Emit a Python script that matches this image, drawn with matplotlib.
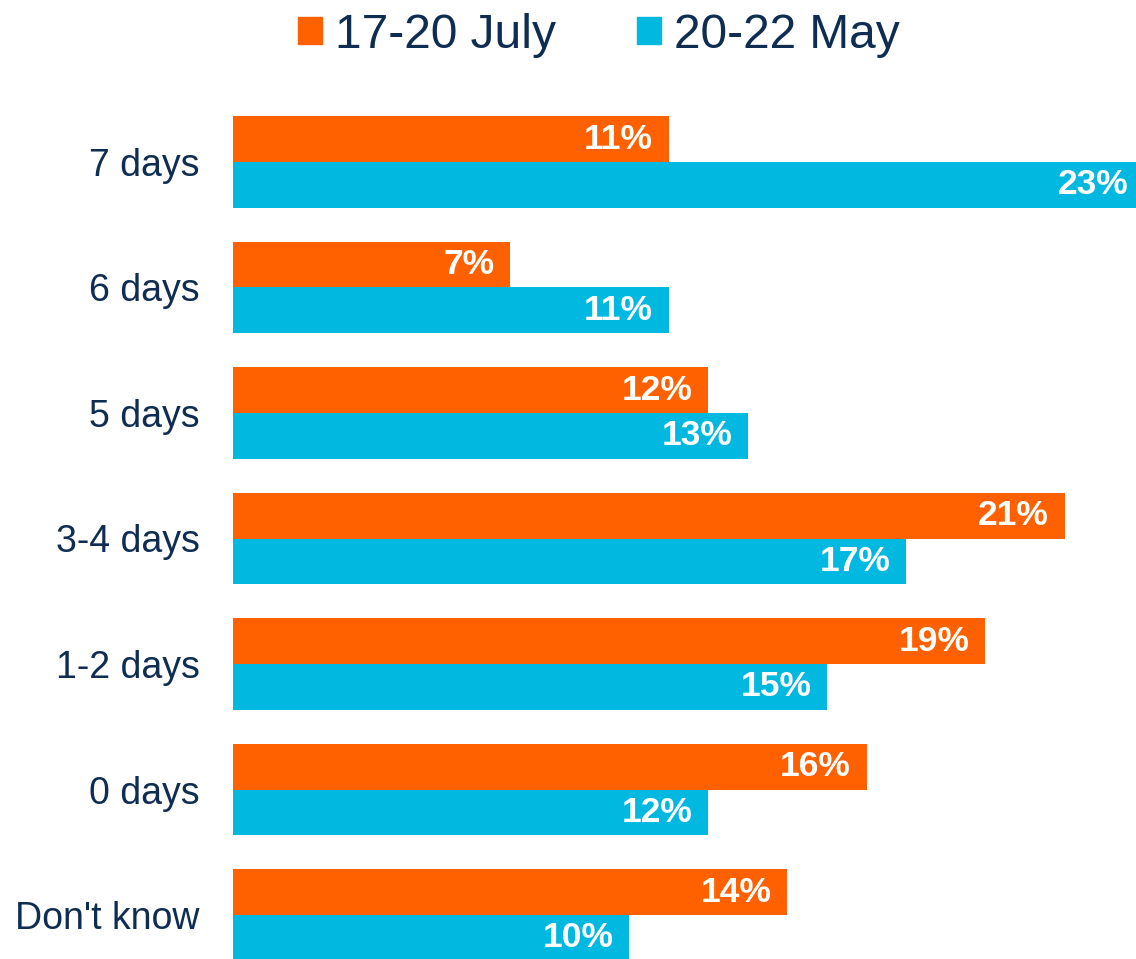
import matplotlib.pyplot as plt
import matplotlib
import numpy as np
from matplotlib.patches import Patch

matplotlib.rcParams['font.family'] = ['Liberation Sans', 'DejaVu Sans']

# data
categories = ['7 days', '6 days', '5 days', '3-4 days', '1-2 days', '0 days', "Don't know"]
july = [11, 7, 12, 21, 19, 16, 14]
may = [23, 11, 13, 17, 15, 12, 10]
series_names = ['17-20 July', '20-22 May']

ORANGE = '#FF6000'
CYAN = '#00B8E0'
NAVY = '#0F2D52'

fig = plt.figure(figsize=(11.36, 9.59), dpi=100)
ax = fig.add_axes([233 / 1136, 0, 1 - 233 / 1136, 859 / 959])

y = np.arange(len(categories))
h = 0.366
ax.barh(y - h / 2, july, height=h, color=ORANGE)
ax.barh(y + h / 2, may, height=h, color=CYAN)

# value labels inside bar ends
for i in range(len(categories)):
    ax.text(july[i] - 0.4, y[i] - h / 2, f'{july[i]}%', ha='right', va='center',
            color='white', fontsize=25.5, fontweight='bold')
    ax.text(may[i] - 0.4, y[i] + h / 2, f'{may[i]}%', ha='right', va='center',
            color='white', fontsize=25.5, fontweight='bold')

ax.set_xlim(0, 22.8)
ax.set_ylim(6 + 44 / 125.5, -62 / 125.5)
ax.set_yticks(y)
ax.set_yticklabels(categories, fontsize=27, color=NAVY)
ax.tick_params(axis='y', length=0, pad=24)
ax.set_xticks([])
for s in ax.spines.values():
    s.set_visible(False)

handles = [Patch(color=ORANGE), Patch(color=CYAN)]
fig.legend(handles, series_names, loc='center', bbox_to_anchor=(0.527, 1 - 35 / 959),
           ncol=2, frameon=False, fontsize=34.5, handlelength=0.5, handleheight=0.5,
           handletextpad=0.27, columnspacing=1.7, labelcolor=NAVY)

plt.savefig('out.png', dpi=100)
